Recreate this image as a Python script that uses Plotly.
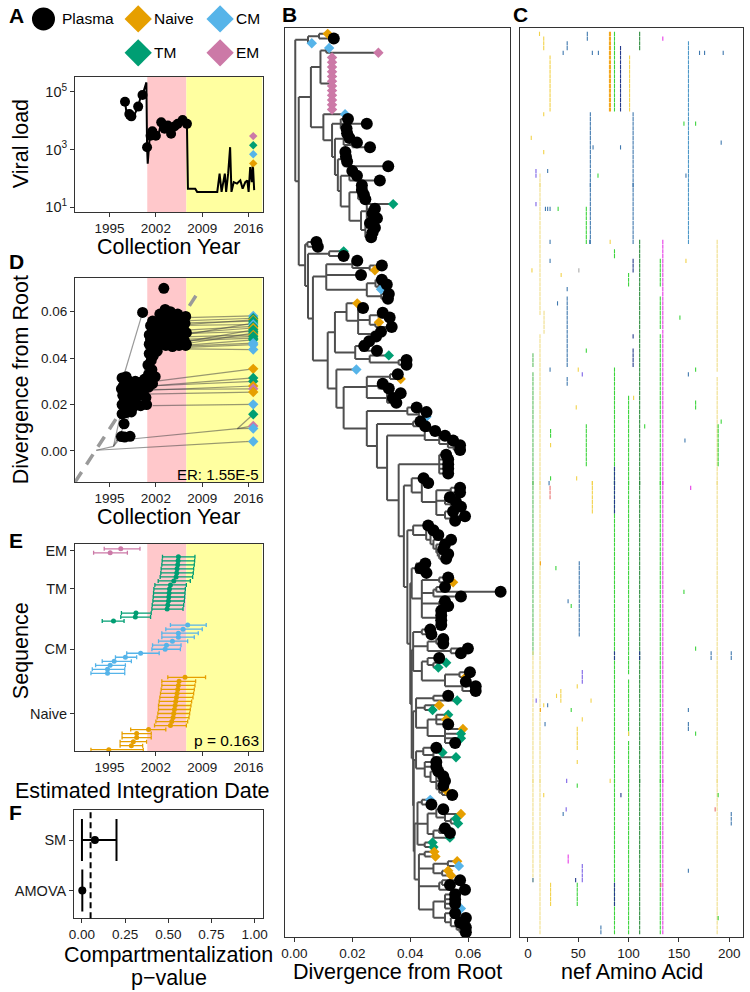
import plotly.graph_objects as go

W, H = 750, 992
FONT = "Liberation Sans, Arial, Helvetica, sans-serif"
TYPE_COL = {"P": "#000000", "N": "#E69F00", "C": "#56B4E9", "T": "#009E73", "E": "#CC79A7"}
PINK, YEL = "#FFC8CB", "#FFFFA0"
ERA_PINK = [2000.7, 2006.6]
ERA_YEL = [2006.6, 2018.3]
YEAR_RANGE = [1989.8, 2018.1]
YEAR_TICKS = [1995, 2002, 2009, 2016]

# ---------------- Panel A : viral load ----------------
vl_year = [1997.34, 1997.69, 1997.99, 1998.58, 1999.33, 1999.68, 1999.98, 2000.57, 2000.67, 2000.77,
           2001.07, 2001.47, 2001.97, 2002.31, 2002.81, 2003.31, 2003.81, 2004.30, 2004.80, 2005.30,
           2006.04, 2006.69, 2006.84, 2007.94, 2008.23, 2011.27, 2011.62, 2011.92, 2012.41, 2012.61,
           2012.91, 2013.21, 2013.41, 2013.76, 2014.25, 2014.75, 2015.10, 2015.50, 2015.80, 2016.00,
           2016.24, 2016.49, 2016.64, 2016.84]
vl_value = [45000, 11500, 17000, 13000, 30500, 63700, 76800, 210000, 1200, 320,
            2700, 4300, 3000, 2700, 8700, 5200, 6800, 4000, 6200, 7700,
            10500, 7700, 44, 44, 34, 34, 145, 34, 145, 34,
            145, 1200, 34, 74, 66, 85, 44, 74, 85, 34,
            245, 74, 316, 39]
sample_year = [1997.34, 1997.99, 1998.3, 1999.33, 1999.98, 2000.67, 2001.2, 2001.47, 2002.0, 2002.81,
               2003.31, 2003.81, 2004.30, 2004.80, 2005.30, 2006.04, 2006.69]
sample_vl = [45000, 17000, 14000, 30500, 76800, 1200, 3000, 4300, 3000, 8700,
             5200, 6800, 3500, 6200, 7700, 10500, 7700]
cellA_type = ["N", "C", "T", "E"]
cellA_vl = [330, 680, 1400, 2900]
cell_year = 2016.7

# ---------------- Panel D : root-to-tip ----------------
plasma_year = [1996.8, 1997.3, 1998.1, 1997.2, 1996.9, 1997.5, 1998.3, 1996.9, 1997.8, 1998.8,
               1999.7, 2000.6, 1997.0, 1997.9, 1998.6, 1999.4, 2000.1, 1997.1, 1997.7, 1998.4,
               1999.2, 1999.9, 1996.9, 1997.5, 1998.0, 1998.9, 1999.6, 2000.3, 1996.8, 1997.3,
               1998.2, 1999.0, 2000.5, 1997.6, 1998.6,
               2000.9, 2001.4, 2001.9, 2000.8, 2001.3, 2001.0, 2001.6, 2002.2, 2000.9, 2001.5,
               2000.0, 2003.2,
               2001.0, 2001.0, 2001.2, 2001.5, 2001.8, 2002.0, 2002.3, 2002.6, 2002.8, 2003.0,
               2003.2, 2003.4, 2003.6, 2003.8, 2004.0, 2004.2, 2004.4, 2004.6, 2004.8, 2005.0,
               2005.2, 2005.4, 2005.6, 2005.8, 2006.0, 2006.2, 2006.4, 2006.5, 2006.6, 2006.6,
               2002.0, 2002.5, 2003.5, 2004.5, 2006.5, 2005.5, 2001.5, 2002.8, 2003.9, 2005.3,
               2001.2, 2002.4, 2003.3, 2004.4, 2005.9, 2006.3]
plasma_div = [0.0062, 0.0060, 0.0063, 0.0117, 0.0160, 0.0165, 0.0168, 0.0200, 0.0200, 0.0210,
              0.0195, 0.0200, 0.0240, 0.0245, 0.0250, 0.0240, 0.0250, 0.0280, 0.0290, 0.0285,
              0.0280, 0.0275, 0.0315, 0.0320, 0.0300, 0.0300, 0.0295, 0.0310, 0.0268, 0.0222,
              0.0222, 0.0230, 0.0230, 0.0185, 0.0190,
              0.0330, 0.0350, 0.0320, 0.0370, 0.0390, 0.0420, 0.0410, 0.0430, 0.0275, 0.0290,
              0.0597, 0.0701,
              0.0460, 0.0500, 0.0540, 0.0560, 0.0475, 0.0520, 0.0555, 0.0590, 0.0460, 0.0500,
              0.0540, 0.0610, 0.0480, 0.0520, 0.0560, 0.0600, 0.0470, 0.0510, 0.0550, 0.0575,
              0.0460, 0.0500, 0.0530, 0.0560, 0.0490, 0.0520, 0.0550, 0.0580, 0.0460, 0.0510,
              0.0450, 0.0500, 0.0455, 0.0450, 0.0455, 0.0455, 0.0440, 0.0570, 0.0585, 0.0590,
              0.0480, 0.0525, 0.0475, 0.0530, 0.0540, 0.0475]
cellD_type = ["C", "T", "N", "T", "T", "C", "T", "N", "T", "T",
              "T", "N", "T", "T", "T", "C", "C", "C", "N", "T",
              "T", "N", "E", "N", "C", "T", "E", "C", "C"]
cellD_div = [0.0582, 0.0572, 0.0565, 0.0560, 0.0551, 0.0545, 0.0537, 0.0530, 0.0522, 0.0515,
             0.0508, 0.0500, 0.0494, 0.0486, 0.0479, 0.0465, 0.0458, 0.0437, 0.0354, 0.0315,
             0.0300, 0.0280, 0.0268, 0.0254, 0.0201, 0.0158, 0.0108, 0.0097, 0.0041]
cellD_anc_year = [2006.5, 2005.0, 2006.6, 2004.0, 2006.2, 2003.0, 2005.8, 2002.5, 2006.4, 2004.5,
                  2006.0, 2003.5, 2005.5, 2002.0, 2006.3, 2004.8, 2001.0, 2006.5, 2001.8, 2000.5,
                  2001.0, 1999.5, 1999.8, 2000.2, 2001.5, 2014.3, 2014.3, 2014.3, 2015.5]
cellD_anc_div = [0.0575, 0.0560, 0.0545, 0.0550, 0.0500, 0.0540, 0.0520, 0.0500, 0.0470, 0.0505,
                 0.0460, 0.0490, 0.0480, 0.0470, 0.0455, 0.0450, 0.0440, 0.0440, 0.0300, 0.0278,
                 0.0280, 0.0260, 0.0265, 0.0245, 0.0195, 0.0096, 0.0096, 0.0096, 0.0040]
edge_year0 = [2014.3, 2015.5, 1993.0, 1995.6, 1995.6, 1995.6, 1997.0, 2000.0, 1999.0]
edge_div0 = [0.0096, 0.0040, 0.0003, 0.0020, 0.0020, 0.0020, 0.0310, 0.0300, 0.0250]
edge_year1 = [1996.0, 1993.0, 1995.6, 1996.8, 1997.0, 1998.0, 2000.0, 2001.0, 2001.3]
edge_div1 = [0.0045, 0.0003, 0.0020, 0.0062, 0.0200, 0.0150, 0.0597, 0.0460, 0.0390]
reg_year = [1989.8, 2008.3]
reg_div = [-0.0134, 0.0680]

# ---------------- Panel E : integration dates (top -> bottom within group) ----------------
em_date = [1996.7, 1995.1]
em_minus = [2.5, 2.5]
em_plus = [2.9, 2.6]
tm_date = [2005.4, 2005.35, 2005.3, 2005.2, 2005.15, 2005.05, 2004.7, 2004.2, 2004.05, 2004.0,
           2003.95, 2003.9, 2003.8, 2003.7, 1999.0, 1998.9, 1995.6]
tm_minus = [2.4, 2.4, 2.4, 2.4, 2.4, 2.4, 2.35, 2.35, 2.35, 2.35, 2.35, 2.35, 2.35, 2.3, 2.2, 2.2, 1.7]
tm_plus = [2.5, 2.5, 2.5, 2.5, 2.5, 2.5, 2.5, 2.4, 2.4, 2.4, 2.4, 2.4, 2.4, 2.4, 2.3, 2.3, 1.6]
cm_date = [2006.8, 2006.1, 2005.4, 2005.4, 2004.5, 2003.6, 2003.4, 1999.7, 1997.4, 1995.7, 1995.1, 1994.7, 1994.7]
cm_minus = [2.6, 2.6, 2.5, 2.5, 2.1, 2.1, 2.0, 2.1, 1.5, 1.8, 2.2, 2.3, 2.5]
cm_plus = [2.8, 2.9, 3.0, 2.4, 2.3, 2.2, 2.3, 2.8, 1.7, 2.6, 2.3, 2.6, 2.6]
nv_date = [2006.4, 2005.5, 2005.4, 2005.3, 2005.2, 2005.1, 2005.0, 2004.9, 2004.8, 2004.7,
           2004.6, 2004.4, 2004.2, 2000.9, 1999.1, 1999.1, 1998.6, 1998.3, 1994.9]
nv_minus = [2.6, 2.6, 2.5, 2.5, 2.5, 2.5, 2.5, 2.5, 2.4, 2.4, 2.4, 2.4, 2.4, 2.7, 2.2, 2.2, 2.0, 1.7, 2.7]
nv_plus = [3.1, 2.5, 2.5, 2.5, 2.5, 2.5, 2.4, 2.4, 2.4, 2.4, 2.4, 2.4, 2.4, 2.6, 2.2, 2.2, 2.0, 1.7, 5.2]

# ---------------- Panel F : compartmentalization ----------------
f_method = ["SM", "AMOVA"]
f_p = [0.075, 0.002]
f_lo = [0.0, 0.002]
f_hi = [0.2, 0.002]
f_alpha = 0.05

# ---------------- Panel B : tree (format: tip = Type:divergence, node = (...):node divergence) -------
T1 = "((N:.0115,P:.0136):.0085,C:.0060):.0047"
YPINK = "((C:.0120,E:.0290):.0110,(E:.0130,E:.0130,E:.0130,E:.0130,E:.0130,E:.0130,E:.0130,E:.0130,E:.0130,E:.0130,E:.0130,E:.0130):.0125):.0090"
B6 = "((T:.0341,P:.0278,P:.0270,P:.0285):.0250,(P:.0261,P:.0278,P:.0270,P:.0265):.0245):.0230"
B5 = "((P:.0233,P:.0233,P:.0240,P:.0245):.0220," + B6 + "):.0190"
B4 = "((P:.0200,P:.0216,P:.0295):.0190," + B5 + "):.0160"
B3 = "((P:.0176,P:.0178,P:.0182,P:.0324):.0170," + B4 + "):.0150"
B2 = "((P:.0182,P:.0190,(P:.0216,P:.0261):.0200):.0170," + B3 + "):.0140"
B1 = "((P:.0185,P:.0250,P:.0180):.0160," + B2 + "):.0130"
YBLACK = "(C:.0175," + B1 + "):.0100"
Z2A = "((P:.0217,(P:.0302,N:.0278):.0260):.0200,P:.0230,((P:.0302,(P:.0319,C:.0299):.0290):.0280,(P:.0326,P:.0323):.0300):.0250):.0110"
Z3A = "((N:.0217,(P:.0237,((P:.0305,P:.0329):.0290,(N:.0292,P:.0336):.0280):.0260,(P:.0299,P:.0282):.0270):.0220):.0180,((P:.0258,P:.0241,P:.0285):.0230,(T:.0326,(P:.0387,P:.0387):.0360):.0260):.0210):.0140"
Z5A = "((P:.0357,N:.0367):.0330,(P:.0305,P:.0326):.0290,(P:.0367,P:.0340,P:.0352):.0320):.0250"
Z6A = "(P:.0422,(P:.0456,C:.0456):.0430):.0390"
Z7A = "(P:.0435,P:.0452):.0410"
Z8A = "(P:.0486,(P:.0520,(P:.0548,(P:.0572,P:.0572):.0550):.0530):.0500):.0450"
Z9A = "(P:.0524,P:.0531,P:.0531,P:.0531,P:.0531):.0500"
C1 = "(P:.0446,(P:.0462,((P:.0572,P:.0572):.0540,(P:.0537,(P:.0558,P:.0575):.0540):.0520,(P:.0548,(P:.0589,P:.0555):.0540):.0520):.0490):.0440):.0405"
C2 = "(P:.0462,(P:.0480,(P:.0497,(P:.0541,(P:.0520,(P:.0514,(P:.0531,P:.0524):.0500):.0495):.0490):.0480):.0470):.0455):.0410"
C3 = "((P:.0452,P:.0435,P:.0456):.0420,((P:.0531,N:.0548):.0500,((P:.0520,P:.0712):.0490,P:.0575):.0480,(P:.0520,P:.0531):.0500,(P:.0507,P:.0507,P:.0507,P:.0507):.0495):.0440):.0405"
C4 = "((P:.0469,P:.0473):.0440,((P:.0514,P:.0514):.0490,(P:.0599,P:.0575):.0540):.0460,((P:.0500,(T:.0524,T:.0497):.0480):.0460,((P:.0606,N:.0592):.0570,(P:.0592,P:.0626,P:.0626):.0580):.0520):.0440):.0410"
C5 = "((P:.0531,T:.0562):.0480,(N:.0500,T:.0477):.0450,((T:.0531,N:.0524,P:.0531):.0490,(N:.0582,T:.0575,T:.0575,P:.0555):.0520):.0460):.0420"
C6 = "((P:.0490,(T:.0511,T:.0558):.0480):.0445,(P:.0490,P:.0490,(P:.0497,(P:.0514,P:.0520,(P:.0514,(N:.0524,P:.0545):.0510):.0500):.0490):.0470):.0450):.0420"
C7 = "((C:.0469,P:.0473):.0440,((P:.0514,(N:.0575,(T:.0558,T:.0565):.0540):.0520):.0490,((P:.0520,P:.0537):.0500,T:.0537):.0480):.0460,(T:.0477,T:.0480):.0450):.0425"
C8 = "((N:.0483,N:.0487):.0450,((N:.0562,C:.0568):.0530,(N:.0531,N:.0541):.0510):.0480,((P:.0572,P:.0537):.0510,P:.0589):.0500,((P:.0555,P:.0555,P:.0555,C:.0575):.0520,(P:.0555,(P:.0592,(P:.0572,(P:.0592,P:.0592):.0570):.0560):.0540):.0520):.0480):.0430"
Z16 = "(" + C7 + "," + C8 + "):.0415"
Z15 = "(" + C6 + "," + Z16 + "):.0412"
Z14 = "(" + C5 + "," + Z15 + "):.0410"
Z13 = "(" + C4 + "," + Z14 + "):.0405"
Z12 = "(" + C3 + "," + Z13 + "):.0400"
Z11 = "(" + C2 + "," + Z12 + "):.0390"
Z10 = "(" + C1 + "," + Z11 + "):.0378"
Z9 = "(" + Z9A + "," + Z10 + "):.0360"
Z8 = "(" + Z8A + "," + Z9 + "):.0320"
Z7 = "(" + Z7A + "," + Z8 + "):.0285"
Z6 = "(" + Z6A + "," + Z7 + "):.0250"
Z5 = "(" + Z5A + "," + Z6 + "):.0170"
Z4 = "(C:.0214," + Z5 + "):.0145"
Z3 = "(" + Z3A + "," + Z4 + "):.0115"
Z2 = "(" + Z2A + "," + Z3 + "):.0064"
Z1 = "((T:.0170,P:.0170):.0120," + Z2 + "):.0047"
ZZ = "((P:.0076,P:.0081):.0045," + Z1 + "):.0037"
YY = "(" + YPINK + "," + YBLACK + "):.0057"
XX = "(" + YY + "," + ZZ + "):.0015"
TREE = "(" + T1 + "," + XX + "):.0003"

# ---------------- Panel C : highlighter (aa position, first row, last row, colour key) -----------
GRID_ROWS = 194
mut_aa = [5, 5, 12, 12, 16, 22, 39, 39, 39, 51, 58, 58, 62, 64, 81, 82, 86, 86, 86, 86, 86, 86, 92, 101,
          100, 100, 100, 100, 104.5, 104.5, 104.5, 104.5, 111, 111, 131.5, 131.5, 131.5, 134, 159.5, 188, 188, 189,
          11.5, 15.7, 59, 134, 39, 35, 64, 70, 170.5, 175.5, 194,
          15.7, 155, 166.6, 3.3, 192, 64.7, 92, 15.7, 8, 19.6, 69.6, 157, 8, 17.4, 19.6, 22, 30,
          22, 61.4, 81.7, 22, 4, 50.6, 157, 33, 29.4, 151, 58, 5, 22, 50, 54, 159.4, 166.6, 105, 48, 166.6,
          192, 116, 22.5, 22.5, 156, 22.5, 21, 48.4, 22, 161.7, 12.4, 27.8,
          155, 39.9, 43, 166.6, 111, 182, 202, 54, 49, 32.7, 28.4, 62.7, 8.2, 15.7, 19.6, 12.4, 43, 159.4,
          54, 17, 159.4, 166.6, 49, 100, 49, 38.5, 49, 81.7, 15.7, 92.4, 189, 38, 35, 186, 202, 40, 159.4,
          54, 5, 47.4, 22.5, 49, 132, 189, 72.5]
mut_from = [74, 134, 31, 66, 61, 6, 58, 75, 56, 115, 39, 85, 18, 97, 1, 1, 1, 48, 73, 94, 134, 184, 4, 6,
            53, 79, 140, 153, 18, 50, 69, 66, 1, 46, 50, 58, 66, 46, 3, 46, 75, 85,
            1, 2, 1, 2, 3, 5, 5, 5, 5, 5, 5,
            18, 20, 20, 23, 24, 25, 25, 26, 30, 30, 31, 31, 38, 39, 39, 39, 39,
            46, 46, 46, 50, 52, 52, 50, 53, 59, 62, 69, 70, 73, 73, 74, 74, 73, 79, 81, 80,
            84, 85, 86, 89, 88, 96, 97, 96, 99, 99, 115, 116,
            121, 123, 124, 133, 134, 134, 134, 138, 141, 142, 143, 144, 144, 145, 145, 146, 146, 146,
            148, 149, 149, 151, 150, 151, 157, 161, 163, 162, 165, 165, 165, 168, 169, 168, 169, 178, 181,
            180, 183, 183, 184, 184, 184, 191, 193]
mut_to = [134, 183, 61, 194, 65, 17, 72, 76, 56, 130, 46, 93, 46, 104, 17, 17, 17, 49, 194, 104, 135, 188, 17, 17,
          55, 138, 151, 194, 46, 52, 72, 66, 4, 194, 55, 64, 194, 194, 46, 73, 194, 93,
          1, 4, 2, 2, 4, 5, 5, 5, 5, 5, 5,
          18, 20, 20, 23, 24, 25, 25, 26, 31, 30, 31, 31, 38, 39, 39, 39, 39,
          46, 46, 46, 50, 52, 52, 50, 53, 59, 62, 69, 72, 73, 73, 74, 74, 73, 79, 81, 81,
          84, 85, 87, 89, 88, 96, 97, 96, 101, 99, 115, 116,
          121, 123, 124, 133, 135, 135, 135, 140, 141, 144, 143, 144, 144, 145, 145, 146, 146, 146,
          148, 149, 150, 151, 154, 151, 157, 161, 163, 162, 165, 165, 165, 168, 169, 168, 171, 179, 181,
          183, 183, 183, 188, 188, 184, 191, 194]
mut_col = ["G5", "LY", "LY", "LY", "LY", "Y", "B", "B", "B", "B", "G", "G", "B", "Y", "O", "O", "G", "G", "G", "NV", "NV", "NV", "NV", "Y",
           "G", "G", "G", "G", "B", "NV", "NV", "NV", "DG", "DG", "G", "G", "G", "M", "LB", "LY", "LY", "G",
           "Y", "Y", "B", "M", "B", "B", "B", "B", "B", "B", "B",
           "Y", "G", "G", "Y", "B", "B", "B", "Y", "PU", "B", "G", "B", "PU", "B", "B", "B", "G",
           "B", "B", "Y", "B", "Y", "GR", "Y", "Y", "B", "G", "G", "G5", "B", "Y", "PU", "B", "G", "Y", "Y", "G",
           "G", "G", "G", "Y", "B", "G", "B", "Y", "R", "M", "O", "G",
           "G", "B", "G", "G", "NV", "B", "B", "PU", "Y", "Y", "Y", "Y", "PU", "Y", "B", "O", "G", "B",
           "Y", "B", "B", "G", "Y", "Y", "Y", "PU", "G", "Y", "Y", "NV", "G", "PU", "B", "R", "B", "M", "B",
           "PU", "B", "NV", "Y", "G", "R", "G", "B"]
C_COL = {"Y": "#F2D24A", "LY": "#F0DE8A", "O": "#F4A61C", "G": "#3CD43C", "G5": "#5DBE60", "DG": "#2A8A3A",
         "B": "#3F78AE", "NV": "#243A8C", "PU": "#7C62E6", "M": "#E63CE6", "R": "#E8716F", "GR": "#AAAAAA",
         "LB": "#4E98C8"}

TICK_SIZE = 13.5
CAT_TICK_SIZE = 14.5
TITLE_SIZE = 21.5


# ================= helpers =================
def xd(a, b):
    return [a / W, b / W]


def yd(top, bot):
    return [1 - bot / H, 1 - top / H]


def axis(domain, rng, **kw):
    d = dict(domain=domain, range=rng, showline=True, mirror=True, linecolor="#333333", linewidth=1,
             ticks="outside", ticklen=4, tickwidth=1, tickcolor="#333333", showgrid=False, zeroline=False,
             tickfont=dict(family=FONT, size=TICK_SIZE, color="#1a1a1a"), fixedrange=True)
    d.update(kw)
    return d


def parse(s):
    s = s.replace(" ", "")
    pos = [0]

    def num():
        j = pos[0]
        while pos[0] < len(s) and (s[pos[0]].isdigit() or s[pos[0]] == "."):
            pos[0] += 1
        return float(s[j:pos[0]])

    def node():
        if s[pos[0]] == "(":
            pos[0] += 1
            kids = []
            while True:
                kids.append(node())
                ch = s[pos[0]]
                pos[0] += 1
                if ch == ")":
                    break
            pos[0] += 1  # ':'
            return {"kids": kids, "div": num()}
        lab = s[pos[0]]
        pos[0] += 2
        return {"kids": [], "type": lab, "div": num()}

    return node()


tree = parse(TREE)
tips = []


def assign(n):
    if not n["kids"]:
        tips.append(n)
        n["y"] = len(tips)
    else:
        for k in n["kids"]:
            assign(k)
        n["y"] = sum(k["y"] for k in n["kids"]) / len(n["kids"])


assign(tree)
N = len(tips)
seg_x, seg_y = [], []


def segs(n):
    if n["kids"]:
        ys = [k["y"] for k in n["kids"]]
        seg_x.extend([n["div"], n["div"], None])
        seg_y.extend([min(ys), max(ys), None])
        for k in n["kids"]:
            seg_x.extend([n["div"], k["div"], None])
            seg_y.extend([k["y"], k["y"], None])
            segs(k)


segs(tree)

fig = go.Figure()

# ---------- Panel A ----------
fig.add_trace(go.Scatter(x=vl_year, y=vl_value, mode="lines", line=dict(color="black", width=2),
                         xaxis="x", yaxis="y"))
fig.add_trace(go.Scatter(x=sample_year, y=sample_vl, mode="markers", marker=dict(color="black", size=10),
                         xaxis="x", yaxis="y"))
fig.add_trace(go.Scatter(x=[cell_year] * len(cellA_vl), y=cellA_vl, mode="markers",
                         marker=dict(symbol="diamond", size=6.5, color=[TYPE_COL[t] for t in cellA_type]),
                         xaxis="x", yaxis="y"))

# ---------- Panel D ----------
ex, ey = [], []
for d, ay, ad in zip(cellD_div, cellD_anc_year, cellD_anc_div):
    ex += [ay, cell_year, None]
    ey += [ad, d, None]
for a0, b0, a1, b1 in zip(edge_year0, edge_div0, edge_year1, edge_div1):
    ex += [a0, a1, None]
    ey += [b0, b1, None]
fig.add_trace(go.Scatter(x=ex, y=ey, mode="lines", line=dict(color="rgba(70,70,70,0.55)", width=1.2),
                         xaxis="x2", yaxis="y2"))
fig.add_trace(go.Scatter(x=reg_year, y=reg_div, mode="lines",
                         line=dict(color="#9a9a9a", width=3.5, dash="12px,9px"), xaxis="x2", yaxis="y2"))
fig.add_trace(go.Scatter(x=plasma_year, y=plasma_div, mode="markers", marker=dict(color="black", size=11),
                         xaxis="x2", yaxis="y2"))
fig.add_trace(go.Scatter(x=[cell_year] * len(cellD_div), y=cellD_div, mode="markers",
                         marker=dict(symbol="diamond", size=8, color=[TYPE_COL[t] for t in cellD_type]),
                         xaxis="x2", yaxis="y2"))

# ---------- Panel E ----------
groups = [("E", em_date, em_minus, em_plus), ("T", tm_date, tm_minus, tm_plus),
          ("C", cm_date, cm_minus, cm_plus), ("N", nv_date, nv_minus, nv_plus)]
total_rows = sum(len(g[1]) for g in groups)
row = total_rows
tickv, tickt = [], []
names = {"E": "EM", "T": "TM", "C": "CM", "N": "Naive"}
for key, dates, mn, pl in groups:
    rows = list(range(row, row - len(dates), -1))
    row -= len(dates)
    tickv.append(sum(rows) / len(rows))
    tickt.append(names[key])
    fig.add_trace(go.Scatter(x=dates, y=rows, mode="markers", marker=dict(color=TYPE_COL[key], size=5),
                             error_x=dict(type="data", symmetric=False, array=pl, arrayminus=mn,
                                          color=TYPE_COL[key], thickness=1.3, width=2),
                             xaxis="x3", yaxis="y3"))

# ---------- Panel F ----------
f_y = [len(f_method) - i for i in range(len(f_method))]
fig.add_trace(go.Scatter(x=f_p, y=f_y, mode="markers", marker=dict(color="black", size=8),
                         error_x=dict(type="data", symmetric=False,
                                      array=[h - p for h, p in zip(f_hi, f_p)],
                                      arrayminus=[p - l for l, p in zip(f_lo, f_p)],
                                      color="black", thickness=2, width=21),
                         xaxis="x4", yaxis="y4"))

# ---------- Panel B ----------
fig.add_trace(go.Scatter(x=seg_x, y=seg_y, mode="lines", line=dict(color="#4f4f4f", width=2),
                         xaxis="x5", yaxis="y5"))
dia = [t for t in tips if t["type"] != "P"]
fig.add_trace(go.Scatter(x=[t["div"] for t in dia], y=[t["y"] for t in dia], mode="markers",
                         marker=dict(symbol="diamond", size=8, color=[TYPE_COL[t["type"]] for t in dia]),
                         xaxis="x5", yaxis="y5"))
pl = [t for t in tips if t["type"] == "P"]
fig.add_trace(go.Scatter(x=[t["div"] for t in pl], y=[t["y"] for t in pl], mode="markers",
                         marker=dict(size=12, color="black"), xaxis="x5", yaxis="y5"))

# ---------- Panel C ----------
mx, my, mc = [], [], []
for aa, r0, r1, c in zip(mut_aa, mut_from, mut_to, mut_col):
    for r in range(r0, r1 + 1):
        mx.append(aa)
        my.append(round(1 + (r - 1) * (N - 1) / (GRID_ROWS - 1)))
        mc.append(C_COL[c])
fig.add_trace(go.Scatter(x=mx, y=my, mode="markers",
                         marker=dict(symbol="line-ns", size=3.0, line=dict(width=1.1, color=mc)),
                         xaxis="x6", yaxis="y6"))

# ---------- legend (panel A header) ----------
leg_x = [39, 135, 218, 135, 218]
leg_y = [18, 18, 18, 52, 52]
leg_type = ["P", "N", "C", "T", "E"]
leg_text = ["Plasma", "Naive", "CM", "TM", "EM"]
fig.add_trace(go.Scatter(x=leg_x[:1], y=leg_y[:1], mode="markers", marker=dict(size=23, color="black"),
                         xaxis="x7", yaxis="y7"))
fig.add_trace(go.Scatter(x=leg_x[1:], y=leg_y[1:], mode="markers",
                         marker=dict(symbol="diamond", size=21, color=[TYPE_COL[t] for t in leg_type[1:]]),
                         xaxis="x7", yaxis="y7"))

# ---------- layout ----------
s = 902.0 / (N - 1)
tree_yrange = [N + 5 / s, 1 - 6 / s]
cat_font = dict(family=FONT, size=CAT_TICK_SIZE, color="#1a1a1a")
lay = dict(
    width=W, height=H, margin=dict(l=0, r=0, t=0, b=0), showlegend=False,
    paper_bgcolor="white", plot_bgcolor="white",
    font=dict(family=FONT, color="black"),
    xaxis=axis(xd(71, 261), YEAR_RANGE, anchor="y", tickvals=YEAR_TICKS),
    yaxis=axis(yd(76, 212), [0.83, 5.52], anchor="x", type="log", tickvals=[10, 1000, 100000],
               ticktext=["10<sup>1</sup>", "10<sup>3</sup>", "10<sup>5</sup>"],
               tickfont=dict(family=FONT, size=14.5, color="#1a1a1a")),
    xaxis2=axis(xd(71, 261), YEAR_RANGE, anchor="y2", tickvals=YEAR_TICKS),
    yaxis2=axis(yd(278, 483), [-0.0134, 0.0746], anchor="x2", tickvals=[0, 0.02, 0.04, 0.06],
                ticktext=["0.00", "0.02", "0.04", "0.06"]),
    xaxis3=axis(xd(71, 261), YEAR_RANGE, anchor="y3", tickvals=YEAR_TICKS),
    yaxis3=axis(yd(545, 753), [0.68, total_rows + 1.24], anchor="x3", tickvals=tickv, ticktext=tickt,
                tickfont=cat_font),
    xaxis4=axis(xd(70, 261), [-0.0457, 1.0457], anchor="y4", tickvals=[0, 0.25, 0.5, 0.75, 1.0],
                ticktext=["0.00", "0.25", "0.50", "0.75", "1.00"]),
    yaxis4=axis(yd(812, 921), [0.45, 2.6], anchor="x4", tickvals=f_y, ticktext=f_method, tickfont=cat_font),
    xaxis5=axis(xd(284, 512), [-0.00317, 0.0745], anchor="y5", tickvals=[0, 0.02, 0.04, 0.06],
                ticktext=["0.00", "0.02", "0.04", "0.06"]),
    yaxis5=axis(yd(27, 940), tree_yrange, anchor="x5", showticklabels=False, ticks=""),
    xaxis6=axis(xd(522, 748), [-7.84, 213.7], anchor="y6", tickvals=[0, 50, 100, 150, 200]),
    yaxis6=axis(yd(27, 940), tree_yrange, anchor="x6", showticklabels=False, ticks=""),
    xaxis7=dict(domain=xd(0, 280), range=[0, 280], visible=False, anchor="y7", fixedrange=True),
    yaxis7=dict(domain=yd(0, 66), range=[66, 0], visible=False, anchor="x7", fixedrange=True),
)
fig.update_layout(**lay)

shapes = []
for xa, ya in [("x", "y"), ("x2", "y2"), ("x3", "y3")]:
    shapes.append(dict(type="rect", xref=xa, yref=ya + " domain", x0=ERA_PINK[0], x1=ERA_PINK[1], y0=0, y1=1,
                       fillcolor=PINK, line=dict(width=0), layer="below"))
    shapes.append(dict(type="rect", xref=xa, yref=ya + " domain", x0=ERA_YEL[0], x1=min(ERA_YEL[1], YEAR_RANGE[1]),
                       y0=0, y1=1, fillcolor=YEL, line=dict(width=0), layer="below"))
shapes.append(dict(type="line", xref="x4", yref="y4 domain", x0=f_alpha, x1=f_alpha, y0=0, y1=1,
                   line=dict(color="black", width=2, dash="6px,4px")))
fig.update_layout(shapes=shapes)

ann = []


def text(t, px, py, size=TITLE_SIZE, xanchor="center", angle=0, bold=False):
    ann.append(dict(text=("<b>%s</b>" % t) if bold else t, x=px / W, y=1 - py / H, xref="paper", yref="paper",
                    xanchor=xanchor, yanchor="middle", showarrow=False, textangle=angle,
                    font=dict(family=FONT, size=size, color="black")))


for lt, px, py in [("A", 2, 15), ("B", 279, 14), ("C", 513, 14), ("D", 2, 262), ("E", 2, 542), ("F", 2, 815)]:
    text(lt, px, py, size=21, xanchor="left", bold=True)
text("Viral load", 17, 143, angle=-90)
text("Divergence from Root", 17, 380, angle=-90)
text("Sequence", 17, 652, angle=-90)
text("Collection Year", 166, 247)
text("Collection Year", 166, 518)
text("Estimated Integration Date", 139, 793)
text("Compartmentalization", 166, 958)
text("p\u2212value", 166, 981)
text("Divergence from Root", 398, 975)
text("nef Amino Acid", 635, 975)
text("ER: 1.55E-5", 259, 475, size=15, xanchor="right")
text("p = 0.163", 259, 742, size=15.5, xanchor="right")
for lx, ly, lt in zip(leg_x, leg_y, leg_text):
    off = 17 if lt == "Plasma" else 14
    text(lt, lx + off, ly, size=15.5, xanchor="left")
fig.update_layout(annotations=ann)

fig.write_html("out.html", config={"displayModeBar": False},
               post_script="document.body.style.margin='0px';document.body.style.padding='0px';"
                           "document.body.style.overflow='hidden';")
